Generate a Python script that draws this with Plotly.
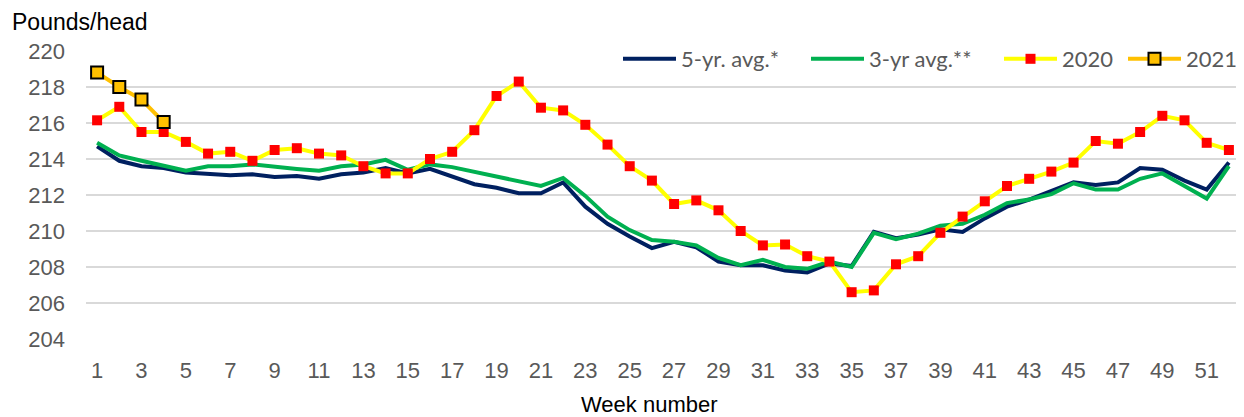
import plotly.graph_objects as go

# weeks 1..52
weeks = list(range(1, 53))

# 5-year average (pounds/head)
avg5 = [214.7, 213.9, 213.6, 213.5, 213.25, 213.2, 213.1, 213.15, 213.0, 213.05,
        212.9, 213.15, 213.25, 213.5, 213.2, 213.45, 213.0, 212.6, 212.4, 212.1,
        212.1, 212.7, 211.35, 210.4, 209.7, 209.05, 209.4, 209.1, 208.3, 208.1,
        208.1, 207.8, 207.7, 208.2, 208.05, 209.95, 209.6, 209.8, 210.1, 209.95,
        210.7, 211.35, 211.75, 212.2, 212.7, 212.55, 212.7, 213.5, 213.4, 212.8,
        212.3, 213.8]

# 3-year average
avg3 = [214.9, 214.2, 213.9, 213.6, 213.35, 213.6, 213.6, 213.7, 213.55, 213.45,
        213.35, 213.6, 213.7, 213.95, 213.4, 213.7, 213.55, 213.3, 213.05, 212.8,
        212.5, 212.95, 211.95, 210.8, 210.05, 209.5, 209.4, 209.2, 208.5, 208.1,
        208.4, 208.0, 207.9, 208.3, 208.0, 209.9, 209.55, 209.85, 210.3, 210.4,
        210.9, 211.55, 211.75, 212.05, 212.65, 212.3, 212.3, 212.9, 213.2, 212.5,
        211.8, 213.6]

y2020 = [216.15, 216.9, 215.5, 215.5, 214.95, 214.3, 214.4, 213.9, 214.5, 214.6,
         214.3, 214.2, 213.6, 213.2, 213.2, 214.0, 214.4, 215.6, 217.5, 218.3,
         216.85, 216.7, 215.9, 214.8, 213.6, 212.8, 211.5, 211.7, 211.15, 210.0,
         209.2, 209.25, 208.6, 208.3, 206.6, 206.7, 208.15, 208.6, 209.9, 210.8,
         211.65, 212.5, 212.9, 213.3, 213.8, 215.0, 214.85, 215.5, 216.4, 216.15,
         214.9, 214.5]

weeks2021 = [1, 2, 3, 4]
y2021 = [218.8, 218.0, 217.3, 216.05]

ytick_vals = list(range(204, 221, 2))
xtick_vals = list(range(1, 53, 2))

# page body has an 8px margin, so the figure is 8px smaller than the window
W, H = 1236, 409
L, R, T, B = 78, 4, 43, 78
pw, ph = W - L - R, H - T - B

fig = go.Figure()
fig.add_trace(go.Scatter(x=weeks, y=avg5, name="5-yr. avg.*", mode="lines",
                         line=dict(color="#002060", width=4), legend="legend"))
fig.add_trace(go.Scatter(x=weeks, y=avg3, name="3-yr avg.**", mode="lines",
                         line=dict(color="#00B050", width=4), legend="legend2"))
fig.add_trace(go.Scatter(x=weeks, y=y2020, name="2020", mode="lines+markers",
                         line=dict(color="#FFFF00", width=4),
                         marker=dict(symbol="square", size=10, color="#FF0000"),
                         legend="legend3"))
fig.add_trace(go.Scatter(x=weeks2021, y=y2021, name="2021", mode="lines+markers",
                         line=dict(color="#FFC000", width=4),
                         marker=dict(symbol="square", size=12, color="#FFC000",
                                     line=dict(color="#000000", width=2)),
                         legend="legend4"))


def leg(px, anchor="left"):
    # one legend per entry, placed by the page x of its box edge
    return dict(x=(px - 8 - L) / pw, xanchor=anchor, y=1 - 8 / ph, yanchor="middle",
                bgcolor="rgba(255,255,255,0)", itemwidth=53,
                font=dict(family="Lato, sans-serif", size=22, color="#595959"))


fig.update_layout(
    width=W, height=H,
    margin=dict(l=L, r=R, t=T, b=B, autoexpand=False),
    plot_bgcolor="white", paper_bgcolor="white",
    font=dict(family="Liberation Sans, Arial", color="#595959", size=22),
    showlegend=True,
    legend=leg(618), legend2=leg(806), legend3=leg(999),
    legend4=leg(1243, "right"),
    annotations=[
        dict(text="Pounds/head", x=(2 - L) / pw, y=1 + (T - 14) / ph,
             xref="paper", yref="paper", showarrow=False,
             font=dict(size=23, color="#000000"), xanchor="left", yanchor="middle"),
        dict(text="Week number", x=(641 - L) / pw, y=-(396 - T - ph) / ph,
             xref="paper", yref="paper", showarrow=False,
             font=dict(size=22, color="#000000"), xanchor="center", yanchor="middle"),
    ],
)

fig.update_xaxes(range=[0.5, 52.5], tickvals=xtick_vals,
                 showgrid=False, showline=False, zeroline=False, ticks="",
                 ticklabelstandoff=16)
fig.update_yaxes(range=[204, 220], tickvals=ytick_vals, showgrid=True,
                 gridcolor="#D9D9D9", gridwidth=2, zeroline=False, showline=False,
                 ticks="", ticklabelstandoff=20)

fig.write_html("out.html")
